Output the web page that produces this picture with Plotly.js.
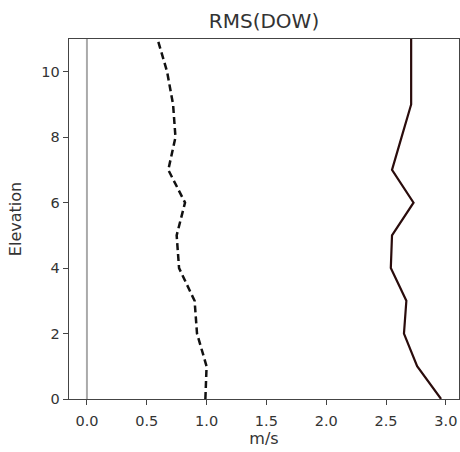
<!DOCTYPE html>
<html>
<head>
<meta charset="utf-8">
<script src="https://cdn.plot.ly/plotly-3.0.1.min.js"></script>
<style>html,body{margin:0;padding:0;background:#fff;}#chart{width:460px;height:452px;}</style>
</head>
<body>
<div id="chart"></div>
<script>
const elevation = [0, 1, 2, 3, 4, 5, 6, 7, 8, 9, 10, 11];
const rmsDashed = [0.99, 1.00, 0.92, 0.90, 0.77, 0.75, 0.82, 0.68, 0.74, 0.72, 0.67, 0.59];
const rmsSolid  = [2.96, 2.76, 2.65, 2.67, 2.54, 2.55, 2.73, 2.55, 2.63, 2.71, 2.71, 2.71];
const xTickVals = [0, 0.5, 1, 1.5, 2, 2.5, 3];
const xTickText = ["0.0", "0.5", "1.0", "1.5", "2.0", "2.5", "3.0"];
const yTickVals = [0, 2, 4, 6, 8, 10];

const tickFont = {family: "DejaVu Sans, sans-serif", size: 14.5, color: "#333"};
const labelFont = {family: "DejaVu Sans, sans-serif", size: 16, color: "#333"};

const traces = [
  {x: rmsDashed, y: elevation, mode: "lines", line: {color: "#111", width: 2.5, dash: "7px,4px"}, showlegend: false},
  {x: rmsSolid, y: elevation, mode: "lines", line: {color: "#2a0c0c", width: 2.2}, showlegend: false}
];

const axisCommon = {
  showgrid: false, zeroline: false, showline: true, mirror: true,
  linecolor: "#444", linewidth: 1.3, ticks: "outside", ticklen: 5, tickcolor: "#444",
  tickfont: tickFont
};

const layout = {
  width: 460, height: 452,
  margin: {l: 69, r: 1, t: 39, b: 53},
  paper_bgcolor: "#fff", plot_bgcolor: "#fff",
  font: tickFont,
  title: {text: "RMS(DOW)", font: {family: "DejaVu Sans, sans-serif", size: 20, color: "#333"},
          x: 0.5, xref: "paper", y: 1 - 21/452, yref: "container", yanchor: "middle"},
  xaxis: Object.assign({}, axisCommon, {
    range: [-0.15, 3.11], tickvals: xTickVals, ticktext: xTickText,
    ticklabelstandoff: 3,
    title: {text: "m/s", font: labelFont, standoff: 4}
  }),
  yaxis: Object.assign({}, axisCommon, {
    range: [0, 11], tickvals: yTickVals,
    title: {text: "Elevation", font: labelFont, standoff: 15}
  }),
  shapes: [
    {type: "line", xref: "x", yref: "paper", x0: 0, x1: 0, y0: 0, y1: 1,
     line: {color: "#aaa", width: 2}, layer: "below"}
  ]
};

Plotly.newPlot("chart", traces, layout, {staticPlot: true, displayModeBar: false});
</script>
</body>
</html>
